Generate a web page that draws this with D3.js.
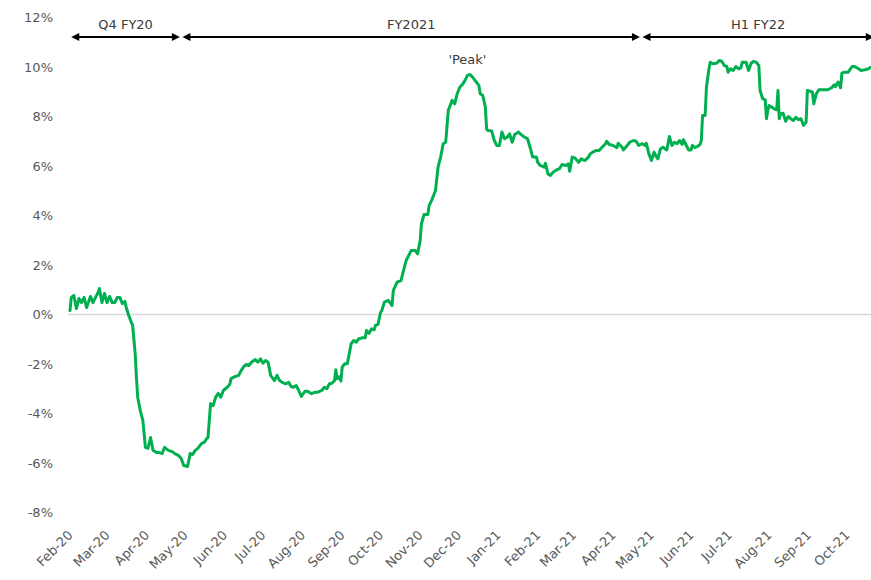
<!DOCTYPE html>
<html><head><meta charset="utf-8">
<script src="https://cdn.jsdelivr.net/npm/d3@7"></script>
<style>body{margin:0;background:#fff}svg{display:block}text{font-family:"DejaVu Sans",sans-serif}</style>
</head><body><svg id="c" width="871" height="580"></svg>
<script>
const dates = ["2020-02-01","2020-02-02","2020-02-04","2020-02-06","2020-02-08","2020-02-10","2020-02-12","2020-02-14","2020-02-17","2020-02-19",
"2020-02-21","2020-02-23","2020-02-24","2020-02-26","2020-02-28","2020-03-01","2020-03-03","2020-03-05","2020-03-07","2020-03-09",
"2020-03-11","2020-03-13","2020-03-15","2020-03-16","2020-03-18","2020-03-20","2020-03-21","2020-03-23","2020-03-24","2020-03-25",
"2020-03-27","2020-03-29","2020-03-30","2020-03-31","2020-04-02","2020-04-04","2020-04-06","2020-04-09","2020-04-11","2020-04-13",
"2020-04-15","2020-04-18","2020-04-21","2020-04-23","2020-04-26","2020-04-28","2020-04-30","2020-05-03","2020-05-05","2020-05-07",
"2020-05-09","2020-05-11","2020-05-14","2020-05-16","2020-05-18","2020-05-19","2020-05-21","2020-05-23","2020-05-25","2020-05-27",
"2020-05-29","2020-05-31","2020-06-03","2020-06-05","2020-06-06","2020-06-09","2020-06-12","2020-06-14","2020-06-16","2020-06-18",
"2020-06-20","2020-06-22","2020-06-25","2020-06-27","2020-06-29","2020-07-01","2020-07-03","2020-07-05","2020-07-07","2020-07-09",
"2020-07-10","2020-07-12","2020-07-14","2020-07-16","2020-07-19","2020-07-21","2020-07-23","2020-07-25","2020-07-27","2020-07-29",
"2020-07-31","2020-08-03","2020-08-05","2020-08-08","2020-08-11","2020-08-13","2020-08-16","2020-08-18","2020-08-20","2020-08-22",
"2020-08-24","2020-08-26","2020-08-27","2020-08-28","2020-08-30","2020-08-31","2020-09-01","2020-09-03","2020-09-05","2020-09-07",
"2020-09-08","2020-09-10","2020-09-12","2020-09-14","2020-09-17","2020-09-19","2020-09-20","2020-09-22","2020-09-24","2020-09-26",
"2020-09-27","2020-09-29","2020-10-01","2020-10-02","2020-10-04","2020-10-07","2020-10-10","2020-10-11","2020-10-14","2020-10-17",
"2020-10-19","2020-10-21","2020-10-23","2020-10-25","2020-10-28","2020-10-30","2020-11-01","2020-11-02","2020-11-04","2020-11-07",
"2020-11-08","2020-11-10","2020-11-12","2020-11-13","2020-11-15","2020-11-17","2020-11-19","2020-11-21","2020-11-23","2020-11-25",
"2020-11-26","2020-11-28","2020-11-30","2020-12-02","2020-12-04","2020-12-06","2020-12-08","2020-12-10","2020-12-12","2020-12-15",
"2020-12-17","2020-12-18","2020-12-20","2020-12-22","2020-12-23","2020-12-24","2020-12-27","2020-12-29","2020-12-31","2021-01-02",
"2021-01-04","2021-01-06","2021-01-08","2021-01-10","2021-01-12","2021-01-14","2021-01-17","2021-01-19","2021-01-21","2021-01-24",
"2021-01-26","2021-01-28","2021-01-31","2021-02-01","2021-02-03","2021-02-06","2021-02-07","2021-02-09","2021-02-11","2021-02-13",
"2021-02-16","2021-02-18","2021-02-20","2021-02-23","2021-02-25","2021-02-26","2021-02-28","2021-03-02","2021-03-05","2021-03-07",
"2021-03-10","2021-03-13","2021-03-14","2021-03-16","2021-03-19","2021-03-21","2021-03-23","2021-03-26","2021-03-27","2021-03-29",
"2021-04-01","2021-04-04","2021-04-05","2021-04-08","2021-04-09","2021-04-12","2021-04-14","2021-04-17","2021-04-19","2021-04-21",
"2021-04-24","2021-04-26","2021-04-27","2021-04-29","2021-05-01","2021-05-03","2021-05-05","2021-05-06","2021-05-08","2021-05-10",
"2021-05-13","2021-05-15","2021-05-17","2021-05-19","2021-05-21","2021-05-23","2021-05-25","2021-05-26","2021-05-29","2021-05-30",
"2021-06-01","2021-06-02","2021-06-04","2021-06-06","2021-06-08","2021-06-09","2021-06-10","2021-06-12","2021-06-13","2021-06-15",
"2021-06-16","2021-06-18","2021-06-21","2021-06-23","2021-06-25","2021-06-27","2021-06-29","2021-06-30","2021-07-02","2021-07-04",
"2021-07-06","2021-07-08","2021-07-10","2021-07-11","2021-07-14","2021-07-16","2021-07-18","2021-07-20","2021-07-22","2021-07-24",
"2021-07-25","2021-07-27","2021-07-29","2021-07-30","2021-07-31","2021-08-01","2021-08-03","2021-08-05","2021-08-07","2021-08-08",
"2021-08-09","2021-08-10","2021-08-12","2021-08-14","2021-08-16","2021-08-18","2021-08-20","2021-08-22","2021-08-24","2021-08-26",
"2021-08-28","2021-08-30","2021-08-31","2021-09-02","2021-09-04","2021-09-05","2021-09-07","2021-09-09","2021-09-11","2021-09-14",
"2021-09-16","2021-09-19","2021-09-21","2021-09-22","2021-09-24","2021-09-26","2021-09-27","2021-09-29","2021-10-02","2021-10-05",
"2021-10-07","2021-10-10","2021-10-12","2021-10-15","2021-10-18","2021-10-19"];

const values = [0.16,0.69,0.77,0.24,0.65,0.48,0.69,0.28,0.73,0.48,
0.69,0.89,1.05,0.48,0.85,0.48,0.73,0.48,0.48,0.69,
0.69,0.44,0.53,0.28,-0.04,-0.32,-0.44,-1.58,-2.55,-3.35,
-3.88,-4.28,-4.81,-5.37,-5.41,-4.97,-5.49,-5.58,-5.58,-5.62,
-5.37,-5.49,-5.54,-5.62,-5.70,-5.82,-6.10,-6.14,-5.62,-5.66,
-5.49,-5.41,-5.21,-5.17,-5.01,-4.97,-3.60,-3.68,-3.34,-3.19,
-3.34,-3.07,-2.94,-2.83,-2.59,-2.51,-2.46,-2.26,-2.10,-2.02,
-2.06,-1.93,-1.82,-1.93,-1.79,-1.97,-1.86,-1.93,-2.46,-2.60,
-2.67,-2.46,-2.67,-2.74,-2.80,-2.74,-2.91,-2.94,-2.87,-3.07,
-3.31,-3.10,-3.10,-3.20,-3.14,-3.14,-3.07,-2.94,-3.00,-2.80,
-2.78,-2.67,-2.23,-2.60,-2.51,-2.69,-2.13,-1.99,-1.99,-1.45,
-1.18,-1.05,-1.12,-0.98,-0.94,-0.94,-0.65,-0.76,-0.58,-0.62,
-0.44,-0.40,0.09,0.16,0.50,0.57,0.36,0.97,1.31,1.37,
1.78,2.18,2.38,2.59,2.59,2.45,2.99,3.66,4.04,4.04,
4.40,4.61,4.88,5.01,5.95,6.36,6.90,6.96,8.24,8.51,
8.65,8.51,8.92,9.18,9.29,9.45,9.66,9.70,9.59,9.39,
9.25,8.92,8.85,8.38,7.50,7.43,7.41,7.03,6.83,6.83,
7.37,7.10,7.16,7.30,6.96,7.27,7.37,7.27,7.19,7.10,
6.76,6.36,6.36,6.15,6.02,5.95,6.11,5.68,5.62,5.75,
5.85,5.89,6.06,6.02,6.09,5.79,6.36,6.33,6.15,6.29,
6.22,6.38,6.49,6.56,6.63,6.63,6.74,6.90,7.00,6.87,
6.83,6.74,6.92,6.76,6.65,6.83,6.96,7.03,7.00,6.83,
6.90,6.83,6.92,6.49,6.22,6.56,6.36,6.29,6.69,6.76,
6.65,7.19,6.83,6.96,6.90,7.03,6.87,7.06,6.76,6.65,
6.65,6.83,6.74,6.79,6.87,7.03,8.04,8.04,9.18,9.93,
10.19,10.13,10.15,10.26,10.23,10.06,10.02,9.79,9.93,9.86,
10.02,9.93,9.97,10.19,10.19,9.86,10.15,10.23,10.19,10.06,
9.05,8.72,8.67,7.91,8.24,8.44,8.38,8.31,8.27,9.05,
7.91,8.11,8.13,7.81,8.00,7.91,7.84,7.97,7.87,7.91,
7.64,7.77,9.05,9.02,8.98,8.51,8.92,9.08,9.08,9.08,
9.08,9.16,9.28,9.21,9.39,9.16,9.75,9.79,9.79,10.02,
10.02,9.93,9.86,9.89,9.93,9.98];

const yTicks = [-8,-6,-4,-2,0,2,4,6,8,10,12];
const monthTicks = ["2020-02-01","2020-03-01","2020-04-01","2020-05-01","2020-06-01","2020-07-01","2020-08-01","2020-09-01","2020-10-01","2020-11-01","2020-12-01",
"2021-01-01","2021-02-01","2021-03-01","2021-04-01","2021-05-01","2021-06-01","2021-07-01","2021-08-01","2021-09-01","2021-10-01"];
const periodLabels = ["Q4 FY20","FY2021","H1 FY22"];
const periodStarts = ["2020-02-02","2020-04-29","2021-04-24"];
const periodEnds = ["2020-04-27","2021-04-22","2021-10-22"];
const peakText = "'Peak'";
const peakDate = "2020-12-08";

const W = 871, H = 580;
const parse = d3.timeParse("%Y-%m-%d");
const data = dates.map((d,i)=>({date:parse(d), value:values[i]}));

const svg = d3.select("#c");
const x = d3.scaleTime().domain([parse("2020-02-01"), parse("2021-10-19")]).range([70, 870]);
const y = d3.scaleLinear().domain([-8, 12]).range([512.5, 17.5]);

// y axis
const ya = svg.append("g").attr("transform","translate(56,0)")
  .call(d3.axisLeft(y).tickValues(yTicks).tickFormat(d=>d+"%").tickSize(0).tickPadding(3));
ya.select(".domain").remove();
ya.selectAll("text").attr("fill","#595959").style("font-size","13px").attr("font-family",null);

// zero line
svg.append("line").attr("x1", x.range()[0]-2).attr("x2", W)
  .attr("y1", y(0)).attr("y2", y(0)).attr("stroke","#d9d9d9").attr("stroke-width",1.5);

// x axis
const xa = svg.append("g")
  .call(d3.axisBottom(x).tickValues(monthTicks.map(parse)).tickFormat(d3.timeFormat("%b-%y")).tickSize(0));
xa.select(".domain").remove();
xa.selectAll("text")
  .attr("x",0).attr("y",0).attr("dy",null)
  .attr("text-anchor","end")
  .attr("transform","translate(3,536) rotate(-45)")
  .attr("fill","#595959").style("font-size","13px").attr("font-family",null);

// line
svg.append("path").datum(data)
  .attr("fill","none").attr("stroke","#00B050").attr("stroke-width",3)
  .attr("stroke-linejoin","round").attr("stroke-linecap","round")
  .attr("d", d3.line().x(d=>x(d.date)).y(d=>y(d.value)));

// period arrows
const ay = 37, ah = 8, aw = 4;
periodLabels.forEach((lab,i)=>{
  const x1 = x(parse(periodStarts[i])), x2 = x(parse(periodEnds[i]));
  const g = svg.append("g");
  g.append("line").attr("x1",x1+ah-1).attr("x2",x2-ah+1).attr("y1",ay).attr("y2",ay)
    .attr("stroke","#000").attr("stroke-width",2);
  g.append("path").attr("fill","#000")
    .attr("d",`M${x1},${ay}L${x1+ah},${ay-aw}L${x1+ah},${ay+aw}Z`);
  g.append("path").attr("fill","#000")
    .attr("d",`M${x2},${ay}L${x2-ah},${ay-aw}L${x2-ah},${ay+aw}Z`);
  g.append("text").attr("x",(x1+x2)/2).attr("y",29).attr("text-anchor","middle")
    .attr("fill","#3a3a3a").style("font-size","13px").text(lab);
});

// peak label: above the local maximum around the peak date
const pd = parse(peakDate);
const peakMax = d3.max(data.filter(d => Math.abs(d.date - pd) < 20*864e5), d => d.value);
svg.append("text").attr("x", x(pd)).attr("y", y(peakMax)-10)
  .attr("text-anchor","middle").attr("fill","#3a3a3a").style("font-size","13px").text(peakText);
</script></body></html>
